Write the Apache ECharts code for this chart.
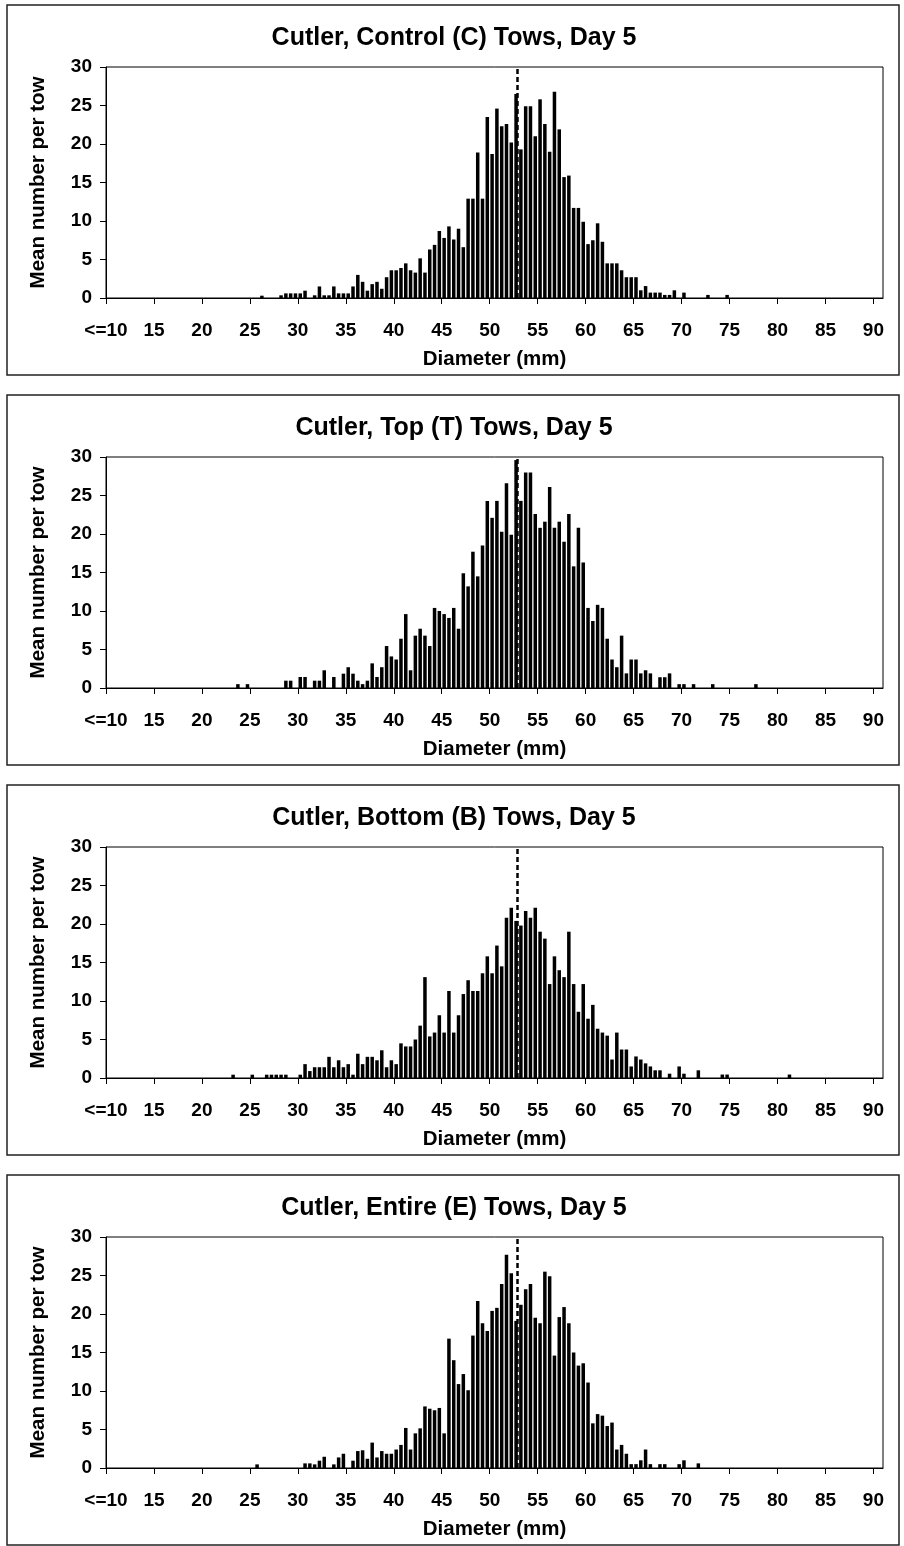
<!DOCTYPE html>
<html>
<head>
<meta charset="utf-8">
<title>Cutler, Day 5</title>
<script src="https://cdn.jsdelivr.net/npm/echarts@6/dist/echarts.min.js"></script>
<style>
html, body { margin: 0; padding: 0; background: #fff; }
#chart { width: 904px; height: 1546px; }
</style>
</head>
<body>
<div id="chart"></div>
<script>
// panel titles
var titles = [
    'Cutler, Control (C) Tows, Day 5',
    'Cutler, Top (T) Tows, Day 5',
    'Cutler, Bottom (B) Tows, Day 5',
    'Cutler, Entire (E) Tows, Day 5'
];

// 0.5 mm bins, first bin = 23 mm, last = 81 mm (rows of 5 mm)
var binStart = 23;
var binStep = 0.5;

var control = [
    0, 0, 0, 0, 0, 0, 0.3, 0, 0, 0,
    0.35, 0.6, 0.6, 0.6, 0.6, 0.95, 0, 0.35, 1.5, 0.35,
    0.35, 1.5, 0.6, 0.6, 0.6, 1.5, 3.0, 2.1, 0.95, 1.8,
    2.1, 1.2, 2.7, 3.6, 3.6, 3.9, 4.5, 3.6, 3.3, 5.15,
    3.3, 6.3, 6.9, 8.7, 7.8, 9.3, 7.6, 9.0, 6.6, 12.9,
    12.9, 18.9, 12.9, 23.5, 18.7, 24.6, 22.3, 22.6, 20.2, 26.5,
    19.3, 24.9, 24.9, 21.0, 25.8, 22.6, 19.0, 26.8, 21.9, 15.7,
    15.9, 11.7, 11.7, 9.9, 7.0, 7.5, 9.7, 7.3, 4.5, 4.5,
    4.5, 3.6, 2.7, 2.7, 2.7, 1.0, 1.55, 0.7, 0.7, 0.7,
    0.4, 0.4, 1.0, 0, 0.7, 0, 0, 0, 0, 0.4,
    0, 0, 0, 0.4, 0, 0, 0, 0, 0, 0,
    0, 0, 0, 0, 0, 0, 0
];
var top_ = [
    0, 0.5, 0, 0.5, 0, 0, 0, 0, 0, 0,
    0, 0.95, 0.95, 0, 1.43, 1.43, 0, 0.95, 0.95, 2.3,
    0, 1.43, 0, 1.86, 2.7, 1.86, 0.95, 0.5, 0.95, 3.2,
    1.43, 2.7, 5.45, 4.1, 3.7, 6.4, 9.6, 2.3, 6.8, 7.7,
    6.8, 5.45, 10.4, 10.0, 9.6, 9.1, 10.4, 7.7, 14.9, 13.2,
    17.7, 14.5, 18.5, 24.3, 22.1, 24.3, 20.3, 26.6, 19.9, 29.6,
    24.3, 28.0, 28.0, 22.6, 20.8, 21.6, 26.1, 20.8, 21.6, 19.0,
    22.6, 15.8, 20.8, 16.3, 10.4, 8.7, 10.8, 10.4, 6.4, 3.7,
    2.7, 6.8, 1.9, 3.7, 3.7, 1.9, 2.3, 1.9, 0, 1.4,
    1.4, 1.9, 0, 0.5, 0.5, 0, 0.5, 0, 0, 0,
    0.5, 0, 0, 0, 0, 0, 0, 0, 0, 0.5,
    0, 0, 0, 0, 0, 0, 0
];
var bottom_ = [
    0.43, 0, 0, 0, 0.43, 0, 0, 0.43, 0.43, 0.43,
    0.43, 0.43, 0, 0, 0.43, 1.8, 0.9, 1.4, 1.4, 1.4,
    2.75, 1.4, 2.3, 1.4, 1.8, 0.43, 3.15, 1.8, 2.75, 2.75,
    2.3, 3.6, 1.4, 2.3, 1.8, 4.5, 4.1, 4.1, 5.0, 6.8,
    13.1, 5.4, 5.9, 8.15, 5.9, 11.3, 5.9, 8.15, 10.9, 12.7,
    11.3, 11.3, 13.6, 15.8, 13.6, 17.2, 14.5, 20.8, 22.1, 20.4,
    19.8, 21.7, 20.8, 22.1, 19.0, 18.1, 12.2, 15.8, 14.0, 13.1,
    19.0, 12.2, 8.6, 12.2, 7.7, 9.5, 6.4, 5.9, 5.5, 2.4,
    5.9, 3.7, 3.7, 1.5, 2.8, 2.4, 1.9, 1.5, 1.0, 1.0,
    0, 0.56, 0, 1.5, 0.56, 0, 0, 1.0, 0, 0,
    0, 0, 0.45, 0.45, 0, 0, 0, 0, 0, 0,
    0, 0, 0, 0, 0, 0, 0.45
];
var entire = [
    0, 0, 0, 0, 0, 0.47, 0, 0, 0, 0,
    0, 0, 0, 0, 0, 0.6, 0.6, 0.47, 0.95, 1.46,
    0, 0.47, 1.37, 1.85, 0, 0.95, 2.2, 2.3, 1.2, 3.3,
    1.37, 2.2, 1.85, 1.85, 2.4, 3.0, 5.2, 2.4, 4.5, 5.15,
    8.0, 7.7, 7.5, 7.8, 4.5, 16.8, 14.0, 10.9, 12.2, 10.1,
    17.2, 21.7, 18.8, 17.8, 20.4, 20.8, 23.9, 27.7, 25.3, 19.1,
    21.2, 23.2, 23.9, 19.5, 18.8, 25.5, 24.9, 14.6, 19.6, 20.9,
    18.8, 15.0, 13.3, 13.6, 11.1, 5.8, 7.0, 6.8, 5.45, 5.9,
    2.4, 3.0, 1.85, 0.5, 0.5, 1.0, 2.4, 0.5, 0, 0.5,
    0.5, 0, 0, 0.5, 1.0, 0, 0, 0.6, 0, 0,
    0, 0, 0, 0, 0, 0, 0, 0, 0, 0,
    0, 0, 0, 0, 0, 0, 0
];

// dashed reference line (mm)
var meanLine = [52.9, 52.9, 52.9, 52.9];

var xTicks = [10, 15, 20, 25, 30, 35, 40, 45, 50, 55, 60, 65, 70, 75, 80, 85, 90];

var panels = [control, top_, bottom_, entire];

var font = "'Liberation Sans', Arial, sans-serif";
var pitch = 390;
var txt = { color: '#000', fontWeight: 'bold', fontFamily: font, fontSize: 19 };

var option = {
    animation: false,
    backgroundColor: '#fff',
    title: [], grid: [], xAxis: [], yAxis: [], series: [], graphic: []
};

panels.forEach(function (vals, k) {
    var off = k * pitch;
    option.graphic.push({
        type: 'rect', silent: true,
        shape: { x: 7, y: 5 + off, width: 892, height: 370 },
        style: { fill: 'none', stroke: '#222', lineWidth: 1.5 }
    });
    option.title.push({
        text: titles[k], left: 454, top: 26 + off, textAlign: 'center', padding: 0,
        textStyle: { color: '#000', fontWeight: 'bold', fontFamily: font, fontSize: 25 }
    });
    option.grid.push({
        left: 106, top: 67 + off, width: 777, height: 231,
        show: true, borderColor: '#000', borderWidth: 1, backgroundColor: 'transparent'
    });
    option.xAxis.push({
        type: 'value', gridIndex: k, min: 10, max: 91, interval: 5,
        axisLine: { show: true, lineStyle: { color: '#000', width: 1 } },
        axisTick: { show: true, length: 6, customValues: xTicks, lineStyle: { color: '#000' } },
        axisLabel: Object.assign({
            customValues: xTicks, margin: 23,
            formatter: function (v) { return v === 10 ? '<=10' : String(v); }
        }, txt),
        splitLine: { show: false },
        name: 'Diameter (mm)', nameLocation: 'middle', nameGap: 51,
        nameTextStyle: Object.assign({}, txt, { fontSize: 20.5 })
    });
    option.yAxis.push({
        type: 'value', gridIndex: k, min: 0, max: 30, interval: 5,
        axisLine: { show: true, lineStyle: { color: '#000', width: 1 } },
        axisTick: { show: true, length: 6, lineStyle: { color: '#000' } },
        axisLabel: Object.assign({ margin: 14 }, txt),
        splitLine: { show: false },
        name: 'Mean number per tow', nameLocation: 'middle', nameGap: 57,
        nameTextStyle: Object.assign({}, txt, { fontSize: 20.5 })
    });
    option.series.push({
        type: 'bar', xAxisIndex: k, yAxisIndex: k,
        barWidth: 3.5,
        itemStyle: { color: '#000' },
        data: vals.map(function (v, i) {
            // bar drawn at the centre of its 0.5 mm bin
            return [binStart + i * binStep + binStep / 2, v];
        }),
        markLine: {
            silent: true, symbol: ['none', 'none'], label: { show: false },
            lineStyle: { color: '#000', type: [5, 3], width: 2.5 },
            data: [{ xAxis: meanLine[k] }]
        }
    });
});

var chart = echarts.init(document.getElementById('chart'), null, { renderer: 'canvas' });
chart.setOption(option);
</script>
</body>
</html>
